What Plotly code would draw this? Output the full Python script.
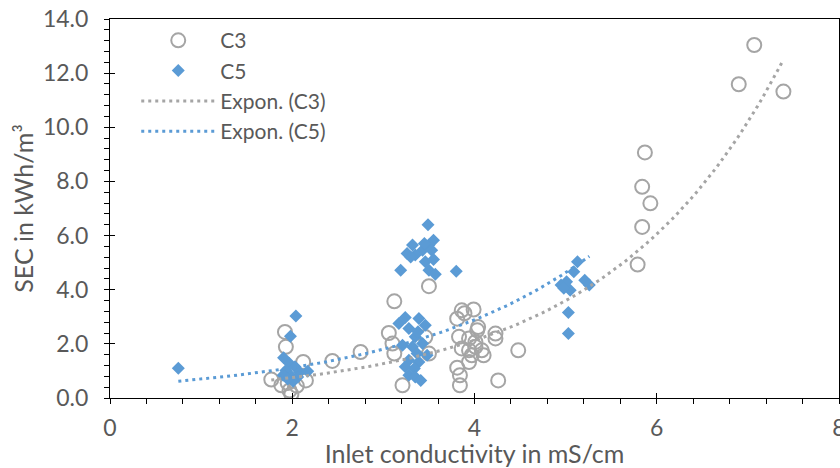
import numpy as np
import plotly.graph_objects as go

# ---- data ----
c3_x = [1.77, 1.88, 1.93, 1.92, 1.97, 1.99, 2.12, 2.15, 2.44, 1.95, 2.05, 2.02,
        2.75, 3.12, 3.06, 3.10, 3.12, 3.21, 3.50, 3.46, 3.50,
        3.86, 3.99, 3.81, 3.89, 4.04, 4.03, 4.23, 4.23, 3.83, 3.94, 3.86, 3.94, 4.01,
        4.08, 4.10, 3.97, 4.01, 3.94, 4.48, 3.81, 3.84, 3.84, 4.26,
        5.79, 5.84, 5.84, 5.93, 5.87, 6.90, 7.07, 7.39]
c3_y = [0.68, 0.47, 1.89, 2.44, 0.28, 0.14, 1.33, 0.65, 1.37, 0.55, 0.45, 0.85,
        1.70, 3.57, 2.40, 2.01, 1.64, 0.47, 4.13, 2.25, 1.64,
        3.24, 3.27, 2.93, 3.13, 2.62, 2.50, 2.38, 2.20, 2.26, 2.20, 1.83, 1.76, 1.89,
        1.76, 1.58, 1.58, 2.07, 1.33, 1.76, 1.12, 0.84, 0.47, 0.65,
        4.93, 6.32, 7.80, 7.19, 9.07, 11.59, 13.04, 11.32]

c5_x = [0.75,
        2.04, 1.98, 1.905, 1.97, 2.03, 1.93, 2.08, 2.17, 1.99, 1.90, 2.06, 2.01, 1.95,
        3.49, 3.32, 3.26, 3.55, 3.50, 3.43, 3.35, 3.53, 3.46, 3.55, 3.19, 3.50, 3.57,
        3.80, 3.30, 3.45,
        3.24, 3.17, 3.39, 3.46, 3.28, 3.35, 3.21, 3.32, 3.43, 3.37, 3.28, 3.39, 3.34,
        3.28, 3.35, 3.41, 3.48, 3.24, 3.38,
        5.13, 5.09, 5.21, 5.26, 5.01, 4.95, 5.05, 5.03, 5.03, 4.98]
c5_y = [1.10,
        3.03, 2.28, 1.49, 1.27, 1.15, 1.02, 0.96, 0.99, 0.80, 0.84, 0.78, 0.62, 0.70,
        6.40, 5.65, 5.34, 5.83, 5.65, 5.46, 5.28, 5.46, 5.03, 5.12, 4.72, 4.72, 4.57,
        4.68, 5.21, 5.71,
        2.97, 2.75, 2.94, 2.69, 2.57, 2.26, 1.95, 1.89, 2.01, 1.64, 1.39, 1.33, 1.09,
        0.84, 0.78, 0.65, 1.58, 1.15, 2.45,
        5.03, 4.66, 4.35, 4.17, 4.29, 4.17, 3.98, 3.16, 2.38, 4.05]

# exponential trendline coefficients y = a*exp(b*x)
trend_c3 = (0.264, 0.522)
trend_c5 = (0.435, 0.473)

x_ticks = [0, 2, 4, 6, 8]
y_ticks = [0, 2, 4, 6, 8, 10, 12, 14]
y_ticklabels = ["0.0", "2.0", "4.0", "6.0", "8.0", "10.0", "12.0", "14.0"]

GREY = "#A5A5A5"
BLUE = "#5B9BD5"
TXT = "#595959"
FONT = "Lato"


def trend(xs, coef):
    tx = np.linspace(min(xs), max(xs), 120)
    return tx, coef[0] * np.exp(coef[1] * tx)


fig = go.Figure()
fig.add_trace(go.Scatter(x=c3_x, y=c3_y, mode="markers", name="C3",
                         marker=dict(symbol="circle-open", size=14, color=GREY,
                                     line=dict(width=2, color=GREY))))
fig.add_trace(go.Scatter(x=c5_x, y=c5_y, mode="markers", name="C5",
                         marker=dict(symbol="diamond", size=10, color=BLUE)))
tx3, ty3 = trend(c3_x, trend_c3)
tx5, ty5 = trend(c5_x, trend_c5)
fig.add_trace(go.Scatter(x=tx3, y=ty3, mode="lines", name="Expon. (C3)",
                         line=dict(color=GREY, width=3, dash="3px,4px")))
fig.add_trace(go.Scatter(x=tx5, y=ty5, mode="lines", name="Expon. (C5)",
                         line=dict(color=BLUE, width=3, dash="3px,4px")))

axis_font = dict(family=FONT, size=23, color=TXT)
title_font = dict(family=FONT, size=25, color=TXT)

fig.update_layout(
    width=840, height=468,
    margin=dict(l=110, r=1, t=19, b=70, autoexpand=False),
    paper_bgcolor="white", plot_bgcolor="white",
    font=dict(family=FONT, color=TXT),
    showlegend=True,
    legend=dict(x=0.036, y=0.997, xanchor="left", yanchor="top",
                font=dict(family=FONT, size=21, color=TXT),
                bgcolor="rgba(0,0,0,0)", itemwidth=74, tracegroupgap=0),
    xaxis=dict(range=[0, 8], tickvals=x_ticks, ticktext=[str(v) for v in x_ticks],
               showgrid=False, zeroline=False, showline=True, linecolor="black",
               linewidth=1, mirror=True, ticks="outside", ticklen=5, tickcolor="black",
               minor=dict(dtick=0.4, ticks="outside", ticklen=5, tickcolor="black",
                          showgrid=False),
               tickfont=axis_font, ticklabelstandoff=4, ticklabeloverflow="allow",
               title=dict(text="Inlet conductivity in mS/cm", font=title_font, standoff=4)),
    yaxis=dict(range=[0, 14], tickvals=y_ticks, ticktext=y_ticklabels,
               showgrid=False, zeroline=False, showline=True, linecolor="black",
               linewidth=1, mirror=True, ticks="outside", ticklen=5, tickcolor="black",
               minor=dict(dtick=0.4, ticks="outside", ticklen=5, tickcolor="black",
                          showgrid=False),
               tickfont=axis_font, ticklabelstandoff=11,
               title=dict(text="SEC in kWh/m³", font=title_font, standoff=2)),
    xaxis2=dict(overlaying="x", matches="x", anchor="y", side="bottom", range=[0, 8],
                tickvals=x_ticks, showticklabels=False, ticks="inside", ticklen=5,
                tickcolor="black", showgrid=False, zeroline=False, showline=False),
    yaxis2=dict(overlaying="y", matches="y", anchor="x", side="left", range=[0, 14],
                tickvals=y_ticks, showticklabels=False, ticks="inside", ticklen=5,
                tickcolor="black", showgrid=False, zeroline=False, showline=False),
)
# invisible helper trace so the inner tick overlay axes are drawn
fig.add_trace(go.Scatter(x=[0], y=[0], xaxis="x2", yaxis="y2", mode="markers",
                         marker=dict(opacity=0), showlegend=False, hoverinfo="skip"))

fig.write_html("out.html")
